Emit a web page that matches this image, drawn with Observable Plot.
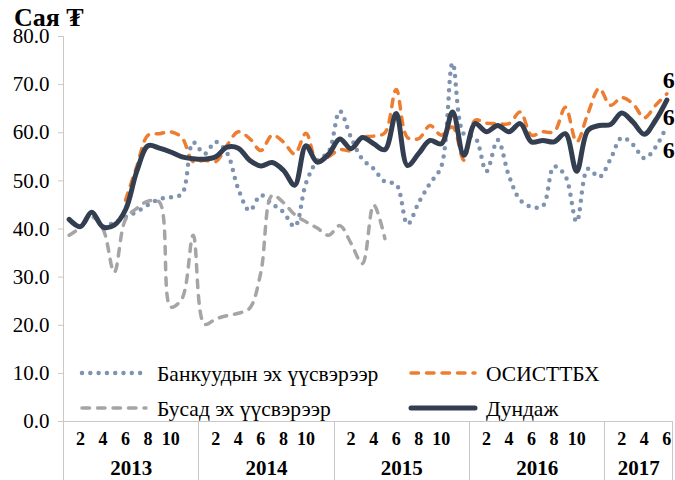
<!DOCTYPE html>
<html>
<head>
<meta charset="utf-8">
<script src="https://cdn.jsdelivr.net/npm/d3@7"></script>
<script src="https://cdn.jsdelivr.net/npm/@observablehq/plot@0.6"></script>
<style>
  html, body { margin: 0; padding: 0; background: #fff; overflow: hidden; }
  #chart { width: 675px; height: 480px; overflow: hidden; }
  #chart svg { overflow: hidden; font-family: "Liberation Serif", "Times New Roman", serif; }
  #chart svg text { font-family: "Liberation Serif", "Times New Roman", serif; }
</style>
</head>
<body>
<div id="chart"></div>
<script>
// ---- Data ----
const titleText = "Сая ₮";
const years = ["2013", "2014", "2015", "2016", "2017"];
const monthsInYear = [12, 12, 12, 12, 6];
const yTicks = [0, 10, 20, 30, 40, 50, 60, 70, 80];
const seriesNames = ["Банкуудын эх үүсвэрээр", "ОСИСТТБХ", "Бусад эх үүсвэрээр", "Дундаж"];

// monthly values, Jan 2013 – Jun 2017 (null = no data)
const banks = [
  null, null, null, 40.5, 41.3, 42.5, 43.6, 45.0, 46.2, 46.6, 47.3, 58.0,
  55.6, 58.1, 55.8, 48.3, 43.8, 47.0, 45.2, 43.5, 40.5, 49.5, 54.2, 56.0,
  64.5, 59.0, 54.5, 52.5, 49.8, 49.3, 41.0, 45.5, 49.5, 53.0, 74.5, 59.7,
  59.0, 52.0, 58.5, 51.0, 46.0, 44.6, 44.8, 53.0, 51.0, 41.5, 52.5, 50.8,
  54.5, 59.0, 57.5, 54.7, 57.0, 61.5
];
const osisttbh = [
  null, null, null, null, null, 46.0, 53.0, 59.5, 59.8, 60.2, 59.0, 54.0,
  54.3, 54.0, 57.4, 60.2, 58.8, 56.3, 59.5, 58.1, 55.6, 59.9, 53.9, 55.0,
  56.5, 56.3, 59.0, 59.3, 60.0, 69.0, 59.0, 58.8, 61.5, 59.5, 61.2, 54.3,
  62.6, 62.0, 61.9, 61.9, 64.3, 59.5, 60.2, 60.2, 65.3, 58.1, 64.0, 69.2,
  65.7, 67.3, 66.0, 63.1, 65.7, 68.1
];
const other = [
  38.7, 40.3, 42.5, 40.0, 31.0, 42.0, 44.3, 45.8, 45.6, 23.8, 25.5, 38.7,
  20.2, 21.3, 22.0, 22.5, 23.5, 31.0, 47.0, 45.5, 43.0, 41.5, 40.2, 38.7,
  40.7, 37.0, 32.8, 45.0, 38.0, null, null, null, null, null, null, null,
  null, null, null, null, null, null, null, null, null, null, null, null,
  null, null, null, null, null, null
];
const average = [
  42.0, 40.5, 43.5, 40.4, 40.8, 44.0, 52.0, 57.3, 56.8, 56.0, 55.0, 54.6,
  54.5, 55.0, 57.0, 56.8, 54.3, 53.1, 53.8, 52.2, 49.1, 57.3, 53.9, 55.5,
  58.7, 56.7, 59.0, 57.7, 56.5, 64.0, 53.2, 55.7, 58.4, 57.7, 64.3, 55.3,
  61.9, 60.2, 61.5, 60.2, 61.9, 58.1, 58.4, 58.1, 59.8, 52.0, 60.5, 61.5,
  61.7, 64.1, 62.2, 59.7, 62.6, 66.8
];

// ---- Derived tables ----
const months = [];
years.forEach((yr, k) => {
  for (let m = 1; m <= monthsInYear[k]; m++) months.push({i: months.length, year: yr, m});
});
const nMonths = months.length;
const yearStarts = [];
{ let s = 0; monthsInYear.forEach(n => { yearStarts.push(s); s += n; }); yearStarts.push(s); }
const yearCenters = years.map((yr, k) => ({year: yr, c: (yearStarts[k] + yearStarts[k + 1]) / 2}));
const monthTicks = months.filter(d => d.m % 2 === 0 && d.m <= 10);

const FONT = '"Liberation Serif", "Times New Roman", serif';
const toRows = arr => arr.map((v, i) => ({x: i + 0.5, v}));
const styles = [
  {data: banks,    stroke: "#7f93b0", strokeWidth: 4.5, strokeDasharray: "0 8.3"},
  {data: osisttbh, stroke: "#ed7d31", strokeWidth: 3.5, strokeDasharray: "7.5 8"},
  {data: other,    stroke: "#a5a5a5", strokeWidth: 3.5, strokeDasharray: "7.5 8"},
  {data: average,  stroke: "#333f50", strokeWidth: 5,   strokeDasharray: null}
];
// end-of-series value labels (offsets as placed in the original)
const endLabelOffsets = [{s: 1, dy: -13}, {s: 3, dy: 17}, {s: 0, dy: 25}];

const lineMarks = styles.map(s => Plot.line(toRows(s.data), {
  x: "x", y: "v", curve: "catmull-rom",
  stroke: s.stroke, strokeWidth: s.strokeWidth,
  strokeDasharray: s.strokeDasharray, strokeLinecap: "round", strokeLinejoin: "round"
}));

const endMarks = endLabelOffsets.map(({s, dy}) => {
  const arr = styles[s].data;
  const last = {x: arr.length - 0.5, v: arr[arr.length - 1]};
  return Plot.text([last], {
    x: "x", y: "v", text: d => d.v.toFixed(1), textAnchor: "start",
    dx: -4, dy, fontSize: 24, fontWeight: "bold", fill: "#000", fontFamily: FONT
  });
});

const chart = Plot.plot({
  width: 675, height: 480,
  marginLeft: 63, marginRight: 3, marginTop: 36, marginBottom: 59,
  x: {domain: [0, nMonths], axis: null},
  y: {domain: [0, 80], axis: null},
  style: {fontFamily: FONT, fontSize: "21px", color: "#000", background: "#fff"},
  marks: [
    Plot.axisY(yTicks, {
      tickFormat: d => d.toFixed(1), tickSize: 5, tickPadding: 9,
      stroke: "#c8c8c8", fill: "#000", fontSize: 21, fontFamily: FONT, label: null
    }),
    Plot.ruleY([0], {stroke: "#c8c8c8", strokeWidth: 1}),
    ...lineMarks,
    ...endMarks,
    Plot.text(monthTicks, {x: d => d.i + 0.5, y: () => 0, text: d => String(d.m), dy: 18, fontSize: 18, fontWeight: "bold", fill: "#000", fontFamily: FONT}),
    Plot.text(yearCenters, {x: "c", y: () => 0, text: "year", dy: 47, fontSize: 21, fontWeight: "bold", fill: "#000", fontFamily: FONT})
  ]
});

document.getElementById("chart").appendChild(chart);

// ---- Decorations: category-axis grid, title, legend ----
const xs = chart.scale("x"), ys = chart.scale("y");
const svg = d3.select(chart);
const y0 = ys.apply(0), yTop = ys.apply(80), H = 480;
const deco = svg.append("g").attr("stroke", "#c8c8c8").attr("stroke-width", 1);
yearStarts.forEach(s => {
  const px = Math.round(xs.apply(s)) + 0.5;
  deco.append("line").attr("x1", px).attr("x2", px)
    .attr("y1", s === 0 ? yTop : y0).attr("y2", H);
});

svg.append("text").attr("x", 14).attr("y", 26).attr("text-anchor", "start")
  .attr("font-family", FONT).attr("font-size", 26).attr("font-weight", "bold").attr("fill", "#000")
  .text(titleText);

const legend = svg.append("g").attr("text-anchor", "start");
const legendItems = [
  {s: 0, x: 80, y: 373}, {s: 1, x: 409, y: 373},
  {s: 2, x: 80, y: 408}, {s: 3, x: 409, y: 408}
];
legendItems.forEach(({s, x, y}) => {
  const st = styles[s];
  legend.append("line").attr("x1", x + 2).attr("x2", x + 66).attr("y1", y).attr("y2", y)
    .attr("stroke", st.stroke).attr("stroke-width", st.strokeWidth)
    .attr("stroke-dasharray", st.strokeDasharray).attr("stroke-linecap", "round");
  legend.append("text").attr("x", x + 77).attr("y", y).attr("dy", "0.35em")
    .attr("text-anchor", "start").attr("font-family", FONT)
    .attr("font-size", 21.5).attr("fill", "#000").text(seriesNames[s]);
});
</script>
</body>
</html>
